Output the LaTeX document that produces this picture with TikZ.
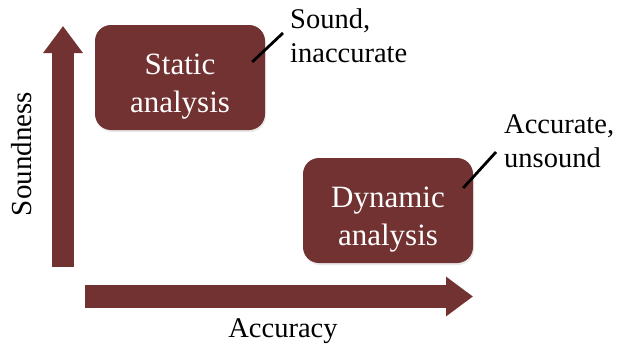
\documentclass[tikz,border=0pt]{standalone}
\usepackage{fontspec}
\setmainfont{Liberation Serif}
\usetikzlibrary{arrows.meta,calc,shadows}
\definecolor{maroon}{RGB}{114,50,50}

\begin{document}
\begin{tikzpicture}[x=1pt, y=-1pt,
    box/.style={rectangle, rounded corners=16pt, fill=maroon, text=white, align=center,
        minimum width=170pt, minimum height=105pt, inner sep=0pt,
        font=\fontsize{31}{38}\selectfont,
        drop shadow={opacity=0.18, shadow xshift=1pt, shadow yshift=-2pt}},
    note/.style={align=left, inner sep=0pt, anchor=west, font=\fontsize{28.5}{34.5}\selectfont},
    axis/.style={draw=maroon, line width=22.5pt, -{Triangle[length=27pt, width=38pt]}},
    pointer/.style={draw=black, line width=2.8pt}
]
    \useasboundingbox (0,0) rectangle (623,348);

    % Axes
    \coordinate (ybot) at (63,267);
    \coordinate (ytop) at (63,26);
    \coordinate (xleft) at (85,296.5);
    \coordinate (xright) at (473,296.5);
    \draw [axis] (ybot) -- (ytop);
    \draw [axis] (xleft) -- (xright);
    \node (soundness) [rotate=90, font=\fontsize{29}{34}\selectfont] at (22,154) {Soundness};
    \node (accuracy) [font=\fontsize{28.5}{34}\selectfont] at (283,331) {Accuracy};

    % Boxes
    \node (static) [box] at (180,77.5) {\rule{0pt}{38pt}Static\\analysis};
    \node (dynamic) [box] at (388,210.5) {\rule{0pt}{38pt}Dynamic\\analysis};

    % Notes
    \node (sound) [note] at (290,36) {Sound,\\inaccurate};
    \node (accurate) [note] at (504,141) {Accurate,\\unsound};

    % Pointers
    \draw [pointer] ($(static.east)+(-13,-15.5)$) -- ($(sound.west)+(-7,-3)$);
    \draw [pointer] ($(dynamic.east)+(-10,-22.5)$) -- ($(accurate.west)+(-8,11)$);

\end{tikzpicture}
\end{document}
